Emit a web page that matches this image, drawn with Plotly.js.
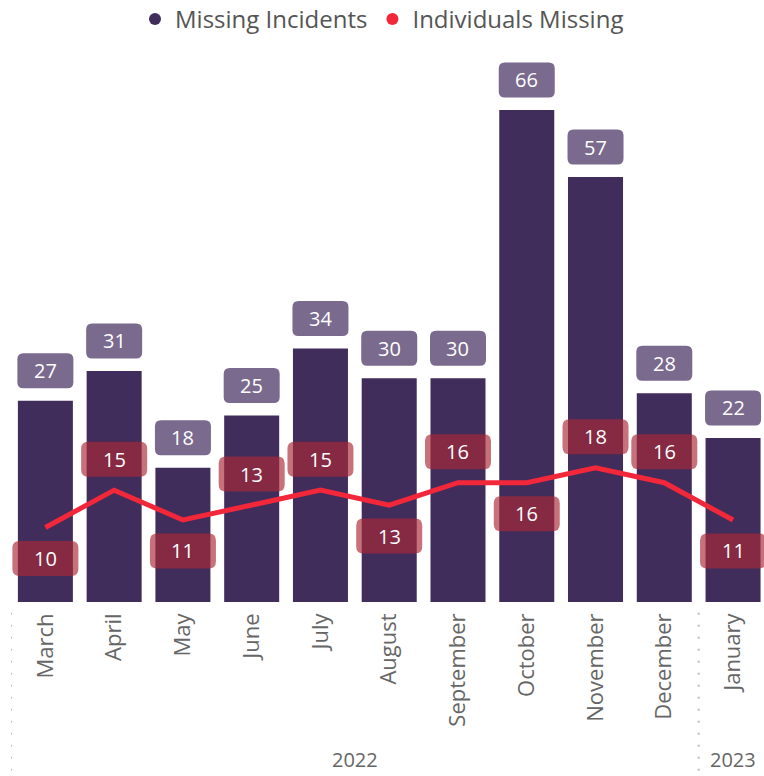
<!DOCTYPE html>
<html>
<head>
<meta charset="utf-8">
<script src="https://cdn.plot.ly/plotly-3.0.1.min.js"></script>
<style>
  html, body { margin: 0; padding: 0; background: #fff; }
  #chart { width: 764px; height: 776px; }
</style>
</head>
<body>
<div id="chart"></div>
<script>
// months, Mar 2022 - Jan 2023
var months = ['March', 'April', 'May', 'June', 'July', 'August', 'September', 'October', 'November', 'December', 'January'];
var missingIncidents = [27, 31, 18, 25, 34, 30, 30, 66, 57, 28, 22];
var individualsMissing = [10, 15, 11, 13, 15, 13, 16, 16, 18, 16, 11];
var years = ['2022', '2023'];

// which side of the line each red label sits on (1 = above, -1 = below)
var redSide = [-1, 1, -1, 1, 1, -1, 1, -1, 1, 1, -1];

var purple = '#412d5b';
var red = '#f2283a';
var fontFam = '"Open Sans", "Noto Sans", sans-serif';

// rounded rect centred on the anchor, offset dy px (pixel units)
function roundRect(w, h, r, dy) {
    var x0 = -w / 2, x1 = w / 2, y0 = dy - h / 2, y1 = dy + h / 2;
    return 'M' + (x0 + r) + ',' + y0 +
        ' L' + (x1 - r) + ',' + y0 + ' Q' + x1 + ',' + y0 + ' ' + x1 + ',' + (y0 + r) +
        ' L' + x1 + ',' + (y1 - r) + ' Q' + x1 + ',' + y1 + ' ' + (x1 - r) + ',' + y1 +
        ' L' + (x0 + r) + ',' + y1 + ' Q' + x0 + ',' + y1 + ' ' + x0 + ',' + (y1 - r) +
        ' L' + x0 + ',' + (y0 + r) + ' Q' + x0 + ',' + y0 + ' ' + (x0 + r) + ',' + y0 + ' Z';
}

var xs = months.map(function (m, i) { return i; });

var data = [
    {
        x: xs, y: missingIncidents, type: 'bar', name: 'Missing Incidents',
        marker: {color: purple}, showlegend: false, hoverinfo: 'y'
    },
    {
        x: xs, y: individualsMissing, type: 'scatter', mode: 'lines', name: 'Individuals Missing',
        line: {color: red, width: 5}, showlegend: false, hoverinfo: 'y'
    },
    // legend entries with round markers
    {x: [null], y: [null], type: 'scatter', mode: 'markers', name: 'Missing Incidents',
        marker: {color: purple, size: 21, symbol: 'circle'}},
    {x: [null], y: [null], type: 'scatter', mode: 'markers', name: 'Individuals Missing',
        marker: {color: red, size: 21, symbol: 'circle'}}
];

var shapes = [];
var annotations = [];

missingIncidents.forEach(function (v, i) {
    shapes.push({
        type: 'path', layer: 'above', xref: 'x', yref: 'y',
        xsizemode: 'pixel', ysizemode: 'pixel', xanchor: i, yanchor: v,
        path: roundRect(56, 35, 6, 30),
        fillcolor: '#7a6a8e', line: {width: 0}
    });
    annotations.push({
        x: i, y: v, xref: 'x', yref: 'y', text: String(v), showarrow: false,
        yshift: 30, font: {family: fontFam, size: 20, color: '#ffffff'}
    });
});

individualsMissing.forEach(function (v, i) {
    var dy = redSide[i] * 31;
    shapes.push({
        type: 'path', layer: 'above', xref: 'x', yref: 'y',
        xsizemode: 'pixel', ysizemode: 'pixel', xanchor: i, yanchor: v,
        path: roundRect(66, 35, 7, dy),
        fillcolor: 'rgba(170,40,55,0.66)', line: {width: 0}
    });
    annotations.push({
        x: i, y: v, xref: 'x', yref: 'y', text: String(v), showarrow: false,
        yshift: dy, font: {family: fontFam, size: 20, color: '#ffffff'}
    });
});

// year group separators
[-0.5, 9.5].forEach(function (sx) {
    shapes.push({
        type: 'line', xref: 'x', yref: 'paper', x0: sx, x1: sx, y0: -0.02, y1: -0.33,
        line: {color: '#bdbdbd', width: 2, dash: '2px,10px'}
    });
});

annotations.push({
    x: 4.5, y: -0.29, xref: 'x', yref: 'paper', text: years[0], showarrow: false,
    yanchor: 'middle', font: {family: fontFam, size: 20, color: '#666666'}
});
annotations.push({
    x: 10, y: -0.29, xref: 'x', yref: 'paper', text: years[1], showarrow: false,
    yanchor: 'middle', font: {family: fontFam, size: 20, color: '#666666'}
});

var layout = {
    width: 764, height: 776,
    margin: {l: 11, r: 0, t: 60, b: 174, autoexpand: false},
    paper_bgcolor: '#ffffff', plot_bgcolor: '#ffffff',
    bargap: 0.2,
    showlegend: true,
    legend: {
        orientation: 'h', x: 0.5, xanchor: 'center', xref: 'container',
        y: 0.975, yanchor: 'middle', yref: 'container',
        font: {family: fontFam, size: 24, color: '#555555'},
        itemsizing: 'constant', itemwidth: 30, traceorder: 'normal'
    },
    xaxis: {
        range: [-0.5, 10.45], tickmode: 'array', tickvals: xs, ticktext: months,
        tickangle: -90, ticks: '', showline: false, showgrid: false, zeroline: false,
        ticklabelstandoff: 6, automargin: false,
        tickfont: {family: fontFam, size: 22, color: '#666666'}, fixedrange: true
    },
    yaxis: {
        range: [0, 72.7], visible: false, showgrid: false, zeroline: false, fixedrange: true
    },
    shapes: shapes,
    annotations: annotations
};

Plotly.newPlot('chart', data, layout, {displayModeBar: false, staticPlot: true});
</script>
</body>
</html>
